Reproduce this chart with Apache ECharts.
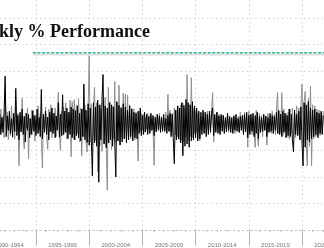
<!DOCTYPE html>
<html>
<head>
<meta charset="utf-8">
<script src="https://cdn.jsdelivr.net/npm/echarts@6/dist/echarts.min.js"></script>
<style>
html,body{margin:0;padding:0;width:324px;height:248px;overflow:hidden;background:#fff;}
#c{position:absolute;left:-40px;top:-20px;width:420px;height:268px;}
</style>
</head>
<body>
<div id="c"></div>
<script>
const titleText = 'Weekly % Performance';
const periodLabels = ['1990-1994','1995-1999','2000-2004','2005-2009','2010-2014','2015-2019','2020-2024'];
const startYear = 1991.6;
const stepYears = 0.1;
const refLevel = 13.4;
const refStart = 1994.7;

// black series (% weekly)
const blackPct = [
 1.8,-2.0,1.2,-1.6,2.2,9.0,-2.4,1.5,-1.2,2.4,
 -1.8,1.0,-2.5,2.0,-1.4,6.7,-2.2,1.6,-3.0,2.2,
 -1.5,2.8,-2.0,1.4,-3.4,2.0,-1.2,1.8,-2.6,1.0,
 -2.0,2.5,-1.4,1.6,-2.2,2.8,-1.8,1.2,-2.4,6.5,
 -2.8,1.8,-1.6,2.4,-2.0,1.3,-3.0,2.2,-1.5,3.0,
 -1.8,2.0,-2.6,1.5,-1.2,4.0,-2.5,1.8,-2.2,5.5,
 -2.0,2.4,-1.6,3.0,-2.8,2.2,-2.0,3.2,-2.6,2.8,
 -3.0,2.5,-2.2,3.4,-2.6,2.0,-3.2,2.8,-2.4,7.5,
 -3.0,2.6,-3.5,3.8,-4.0,3.0,-3.2,-9.8,4.0,-3.6,
 3.2,-4.2,4.5,-11.0,3.6,-3.0,4.2,9.3,-3.8,3.4,
 -4.5,3.0,-3.6,4.0,-3.0,3.6,-4.2,3.2,-3.5,-10.0,
 4.2,-3.2,3.5,-4.0,3.0,-3.4,3.8,-2.8,3.2,-3.6,
 2.6,-3.0,3.4,-2.4,2.8,-3.2,2.2,-2.6,2.0,-2.8,
 2.4,-1.8,3.0,-2.2,1.6,-2.0,2.2,-1.5,1.8,-2.0,
 1.4,-1.8,2.0,-1.2,1.6,-2.2,1.2,-1.5,1.8,-1.2,
 1.5,-1.6,1.2,-1.4,1.8,-1.3,1.0,-1.8,1.6,-1.4,
 2.0,-2.4,1.8,-2.8,-7.5,2.6,-3.0,3.4,-2.8,3.0,
 -3.6,4.0,-6.0,3.5,-4.2,4.6,-3.8,4.0,-4.4,3.6,
 -3.2,4.2,-3.0,3.4,-2.6,3.0,-3.2,2.4,-2.8,2.2,
 -2.0,2.6,-1.8,2.2,-2.4,1.8,-2.0,2.4,-1.6,2.0,
 3.0,-2.2,1.8,-1.6,2.2,-1.8,1.5,-2.0,1.8,-1.4,
 1.6,-1.8,1.2,-1.5,2.0,-1.2,1.4,-1.6,1.2,-1.8,
 1.5,-1.2,1.8,-1.4,1.0,-1.6,1.4,-1.2,1.6,-2.0,
 1.8,-1.5,2.2,-2.6,1.6,-2.0,1.8,-1.4,2.0,-2.4,
 1.6,-1.8,2.2,-2.8,1.4,-1.6,1.2,-1.4,1.8,-1.2,
 1.5,-2.4,1.2,-1.6,2.0,-1.4,1.6,-1.8,1.4,-1.2,
 2.2,-1.8,2.6,-2.0,1.8,-2.4,2.4,-1.6,2.0,-2.6,
 1.6,-2.2,2.8,-2.4,1.8,-3.0,-5.3,2.6,-2.0,1.8,
 -2.2,2.4,-3.0,3.2,-3.6,-7.9,4.0,-4.4,3.6,-3.0,
 4.2,-3.4,3.0,-2.8,2.6,-2.4,2.8,-2.0,2.2,-2.6,
 2.0,-1.8,2.4,-2.0,1.6
];

// gray series (% weekly)
const grayPct = [
 -1.6,2.8,-1.0,1.4,-2.6,7.0,-0.8,2.2,-3.0,1.2,
 -2.2,3.4,-0.6,1.8,-2.8,5.0,-1.4,2.0,-7.9,1.6,
 -1.2,4.8,-2.4,-4.7,2.0,-0.8,3.0,-6.6,1.0,-2.0,
 2.6,-1.0,1.6,-3.2,0.8,-1.8,3.4,-1.2,2.0,-2.4,
 -8.3,1.8,-1.0,3.2,-2.2,-4.8,2.8,-1.4,3.6,-2.6,
 2.0,-1.2,3.0,-2.4,1.6,6.0,-1.6,-5.0,2.4,-2.2,
 3.2,-1.4,4.0,-2.8,2.2,-1.6,4.5,-6.2,4.2,-2.0,
 4.6,-3.0,3.6,-1.8,4.8,-3.4,3.0,-6.0,2.8,-2.4,
 3.6,-3.2,-5.3,2.6,12.9,-3.4,3.8,-4.0,2.8,6.9,
 -3.2,4.0,-9.0,3.6,-4.2,3.0,-5.2,4.4,-3.6,5.0,
 -3.8,-12.5,6.9,-3.6,4.2,-4.8,3.4,-2.8,8.0,-3.6,
 4.0,-3.2,7.3,-3.8,3.2,-2.6,5.8,-2.8,5.6,-3.0,
 5.4,-2.2,3.6,-2.8,3.0,-1.8,2.8,-3.0,2.2,-1.6,
 -7.0,2.4,-1.4,2.0,-1.2,1.8,-1.6,1.2,-1.0,2.0,
 -1.0,1.6,-1.4,1.2,-0.8,-7.8,1.4,-1.0,1.8,-0.6,
 2.0,-1.2,1.4,-0.8,1.2,-1.6,2.2,-1.0,5.6,-1.4,
 2.6,-1.8,2.0,-2.2,3.0,-2.0,2.6,-2.4,3.4,-3.0,
 3.6,-3.0,4.0,-3.4,3.0,-2.6,9.3,-3.2,3.6,-2.4,
 8.7,-2.6,3.0,-1.8,2.4,-1.6,2.0,-2.2,-3.2,1.4,
 -1.2,2.0,-1.4,1.2,-1.8,2.4,-1.0,1.6,-0.8,2.6,
 5.9,-3.4,1.4,-1.2,2.2,-1.0,1.8,-1.6,1.4,-0.8,
 1.6,-1.4,1.0,-0.8,2.0,-1.6,1.4,-1.0,0.8,-1.4,
 1.6,-1.8,1.0,-0.8,1.4,-1.6,2.2,-1.0,1.6,-1.8,
 2.2,-1.2,1.8,-4.4,2.4,-1.4,1.8,-2.0,1.2,-1.6,
 -4.4,2.6,-1.6,-4.2,2.0,-1.2,1.6,-2.4,1.8,-1.2,
 1.4,-4.0,2.0,-1.4,1.0,-1.8,2.4,-1.2,1.8,-2.0,
 2.6,5.9,-1.8,2.4,-1.6,5.9,-2.2,2.8,-1.4,2.0,
 -2.4,2.2,-2.8,2.8,-1.8,3.0,-2.4,2.0,-2.6,3.4,
 -2.0,3.0,-3.0,3.6,7.5,-3.6,4.2,6.1,-4.0,-7.9,
 4.8,-4.2,7.1,-7.9,3.6,-2.8,3.4,-2.4,2.8,-2.0,
 2.6,-2.2,2.0,-1.6,2.4
];

const toPts = arr => arr.map((v, i) => [+(startYear + i * stepYears).toFixed(2), v]);

const dotted = [1.2, 3.2];
const chart = echarts.init(document.getElementById('c'), null, {renderer: 'canvas'});
chart.setOption({
  animation: false,
  backgroundColor: '#fff',
  graphic: [{
    type: 'text', x: 190, y: 52,
    style: {
      text: titleText, align: 'right', verticalAlign: 'middle',
      font: 'bold 18px "Liberation Serif", "Times New Roman", serif',
      fill: '#111'
    },
    z: 10
  }],
  grid: {left: 22.8, right: 24.8, top: 11.3, bottom: 16.4, containLabel: false},
  xAxis: [{
    type: 'value', min: 1990, max: 2025, interval: 5,
    axisLine: {show: true, onZero: false, lineStyle: {color: '#bdbdbd', type: dotted, width: 1}},
    axisTick: {show: true, length: 16, lineStyle: {color: '#b5b5b5', width: 1}},
    minorTick: {show: true, splitNumber: 5, length: 2, lineStyle: {color: '#c4c4c4'}},
    axisLabel: {show: false},
    splitLine: {show: true, lineStyle: {color: '#c8c8c8', type: dotted, width: 1}},
    minorSplitLine: {show: false}
  }, {
    type: 'category', data: periodLabels, boundaryGap: true, position: 'bottom',
    axisLine: {show: false}, axisTick: {show: false}, splitLine: {show: false},
    axisLabel: {show: true, interval: 0, margin: 12, fontSize: 6, color: '#777',
      fontFamily: '"Liberation Sans", Arial, sans-serif'}
  }],
  yAxis: {
    type: 'value', min: -20, max: 25, interval: 5,
    axisLine: {show: false}, axisTick: {show: false}, axisLabel: {show: false},
    splitLine: {show: true, lineStyle: {color: '#c8c8c8', type: dotted, width: 1}}
  },
  series: [{
    type: 'line', xAxisIndex: 0, data: toPts(grayPct), showSymbol: false, symbol: 'none',
    sampling: null, lineStyle: {color: '#8f8f8f', width: 1}, z: 2
  }, {
    type: 'line', xAxisIndex: 0, data: toPts(blackPct), showSymbol: false, symbol: 'none',
    sampling: null, lineStyle: {color: '#000', width: 1}, z: 3
  }, {
    type: 'line', xAxisIndex: 0, data: [[refStart, refLevel - 0.3], [2025, refLevel - 0.3]],
    showSymbol: false, symbol: 'none', lineStyle: {color: '#dedede', width: 2}, z: 4
  }, {
    type: 'line', xAxisIndex: 0, data: [[refStart, refLevel], [2025, refLevel]],
    showSymbol: false, symbol: 'none', lineStyle: {color: '#2fb99b', width: 1.5, type: [3, 1.6]}, z: 5
  }]
});
</script>
</body>
</html>
